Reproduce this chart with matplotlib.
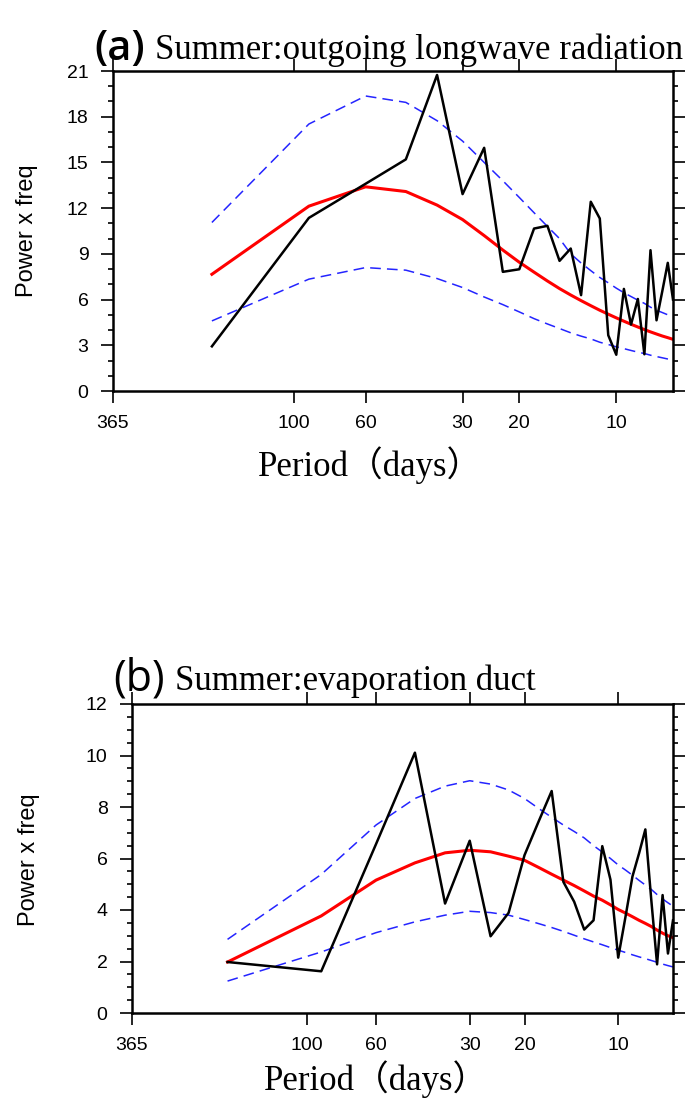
import matplotlib
matplotlib.use("Agg")
import matplotlib.pyplot as plt
from matplotlib.ticker import FixedLocator, MultipleLocator, NullLocator, FixedFormatter

# ---------------- data ----------------
periods = [180, 90, 60, 45, 36, 30, 25.71, 22.5, 20, 18, 16.36, 15, 13.85, 12.86,
           12, 11.25, 10.59, 10, 9.47, 9, 8.57, 8.18, 7.83, 7.5, 7.2, 6.92, 6.667]

tick_periods = [365, 100, 60, 30, 20, 10]
tick_labels = ["365", "100", "60", "30", "20", "10"]

# (a) outgoing longwave radiation
olr_spec = [2.93, 11.36, 13.6, 15.2, 20.74, 12.92, 15.96, 7.82, 7.99, 10.66, 10.84,
            8.54, 9.35, 6.29, 12.42, 11.32, 3.66, 2.38, 6.70, 4.36, 6.04, 2.41,
            9.24, 4.64, 6.53, 8.41, 6.0]
olr_red = [7.66, 12.13, 13.40, 13.09, 12.2, 11.25, 10.2, 9.25, 8.45, 7.8, 7.22,
           6.72, 6.3, 5.93, 5.6, 5.3, 5.04, 4.8, 4.58, 4.38, 4.2, 4.03,
           3.88, 3.74, 3.61, 3.5, 3.39]
olr_upper = [11.06, 17.52, 19.36, 18.94, 17.74, 16.4, 15.0, 13.8, 12.7, 11.7, 10.8,
             10.0, 9.0, 8.4, 7.9, 7.45, 7.1, 6.75, 6.45, 6.2, 5.96, 5.75, 5.5,
             5.3, 5.15, 5.0, 4.9]
olr_lower = [4.60, 7.34, 8.10, 7.93, 7.38, 6.79, 6.17, 5.67, 5.19, 4.75, 4.40,
             4.10, 3.82, 3.60, 3.42, 3.20, 3.05, 2.90, 2.78, 2.66, 2.55, 2.46,
             2.35, 2.26, 2.18, 2.10, 2.03]

# (b) evaporation duct
ed_spec = [1.98, 1.62, 6.56, 10.11, 4.25, 6.69, 2.98, 3.89, 6.13, 7.45, 8.62,
           5.09, 4.32, 3.24, 3.60, 6.48, 5.18, 2.15, 3.75, 5.3, 6.2, 7.13, 4.4,
           1.89, 4.58, 2.31, 3.6]
ed_red = [1.98, 3.77, 5.16, 5.83, 6.22, 6.32, 6.26, 6.09, 5.93, 5.65, 5.39,
          5.16, 4.95, 4.74, 4.54, 4.38, 4.2, 4.02, 3.88, 3.74, 3.6, 3.48, 3.36,
          3.22, 3.1, 3.0, 2.93]
ed_upper = [2.86, 5.38, 7.3, 8.33, 8.81, 9.02, 8.89, 8.66, 8.33, 7.94, 7.6,
            7.3, 7.05, 6.8, 6.5, 6.25, 6.0, 5.75, 5.55, 5.35, 5.15, 4.97, 4.8,
            4.6, 4.43, 4.28, 4.15]
ed_lower = [1.24, 2.37, 3.12, 3.54, 3.80, 3.95, 3.90, 3.80, 3.63, 3.47, 3.32,
            3.17, 3.02, 2.88, 2.76, 2.65, 2.54, 2.44, 2.35, 2.26, 2.18, 2.11,
            2.04, 1.97, 1.90, 1.84, 1.79]

# ---------------- figure ----------------
W, H = 686, 1099
fig = plt.figure(figsize=(W / 100, H / 100), dpi=100)

SANS = "Liberation Sans"
SERIF_CJK = ["Liberation Serif", "Noto Sans CJK SC"]


def px_axes(left, top, right, bottom):
    return fig.add_axes([left / W, 1 - bottom / H, (right - left) / W, (bottom - top) / H])


def panel(ax, spec, red, upper, lower, ymax, ymajor, yminor):
    freq = [1.0 / p for p in periods]
    ax.plot(freq, upper, color="#2424ff", lw=1.1, ls=(0, (7, 4)))
    ax.plot(freq, lower, color="#2424ff", lw=1.1, ls=(0, (7, 4)))
    ax.plot(freq, red, color="#ff0000", lw=2.2)
    ax.plot(freq, spec, color="black", lw=1.8)
    ax.set_xscale("log")
    ax.set_xlim(1.0 / 365, 0.15)
    ax.set_ylim(0, ymax)
    ax.xaxis.set_major_locator(FixedLocator([1.0 / p for p in tick_periods]))
    ax.xaxis.set_major_formatter(FixedFormatter(tick_labels))
    ax.xaxis.set_minor_locator(NullLocator())
    ax.yaxis.set_major_locator(MultipleLocator(ymajor))
    ax.yaxis.set_minor_locator(MultipleLocator(yminor))
    ax.tick_params(which="both", direction="out", top=True, right=True,
                   labeltop=False, labelright=False, width=1.2, color="black")
    ax.tick_params(which="major", length=8.6, pad=9, labelsize=14)
    ax.tick_params(which="minor", length=3.8)
    for lab in ax.get_xticklabels() + ax.get_yticklabels():
        lab.set_fontfamily(SANS)
    for s in ax.spines.values():
        s.set_linewidth(1.8)


ax1 = px_axes(113, 71, 673, 391)
panel(ax1, olr_spec, olr_red, olr_upper, olr_lower, 21, 3, 1)

ax2 = px_axes(132, 704, 673, 1013)
panel(ax2, ed_spec, ed_red, ed_upper, ed_lower, 12, 2, 0.5)

# titles
fig.text(94 / W, 1 - 60 / H, "(a)", fontsize=30, family="Open Sans",
         fontweight="semibold", va="baseline", ha="left")
fig.text(155 / W, 1 - 59 / H, "Summer:outgoing longwave radiation", fontsize=25,
         family="Liberation Serif", va="baseline", ha="left")
fig.text(113 / W, 1 - 691 / H, "(b)", fontsize=31, family="Open Sans",
         va="baseline", ha="left")
fig.text(175 / W, 1 - 690 / H, "Summer:evaporation duct", fontsize=25,
         family="Liberation Serif", va="baseline", ha="left")

# axis labels
fig.text(27 / W, 1 - 231 / H, "Power x freq", rotation=90, fontsize=17,
         family=SANS, va="center", ha="center")
fig.text(29 / W, 1 - 860 / H, "Power x freq", rotation=90, fontsize=17,
         family=SANS, va="center", ha="center")
fig.text(370 / W, 1 - 476 / H, "Period（days）", fontsize=25, family=SERIF_CJK,
         va="baseline", ha="center")
fig.text(376 / W, 1 - 1090 / H, "Period（days）", fontsize=25, family=SERIF_CJK,
         va="baseline", ha="center")

fig.savefig("out.png", dpi=100, facecolor="white")
